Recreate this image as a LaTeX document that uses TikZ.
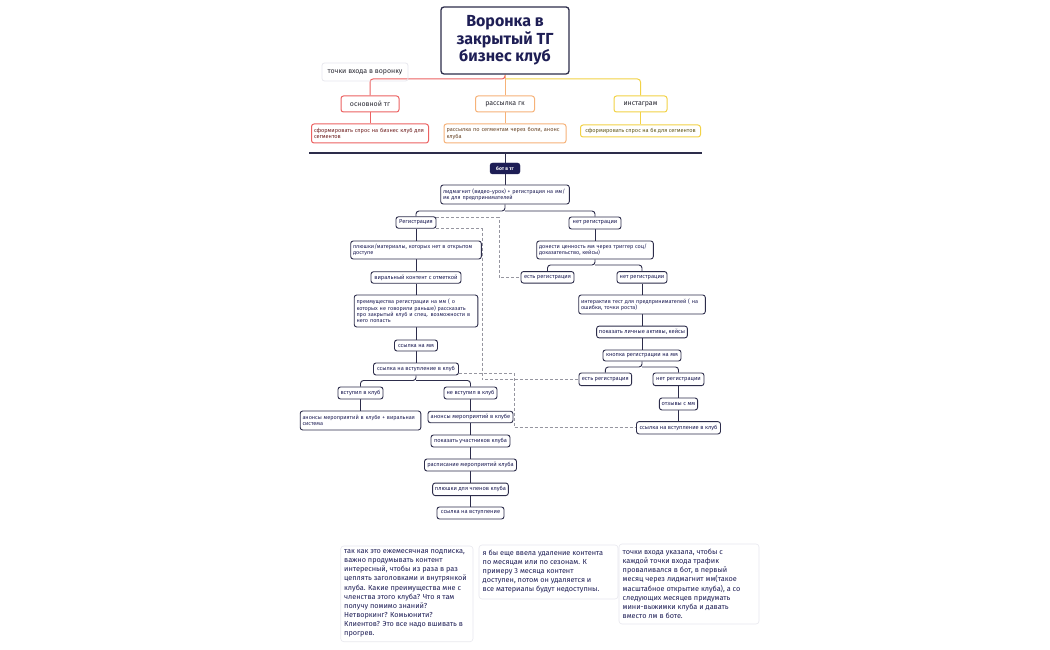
\documentclass[tikz,border=0pt]{standalone}
\usepackage{fontspec}
\setmainfont{Fira Sans}
\usetikzlibrary{calc}
\pgfdeclarelayer{bg}
\pgfdeclarelayer{lines}
\pgfsetlayers{bg,lines,main}
\definecolor{navy}{RGB}{30,30,85}
\definecolor{edge}{RGB}{45,45,75}
\definecolor{rd}{RGB}{236,98,98}
\definecolor{rdt}{RGB}{110,30,30}
\definecolor{og}{RGB}{246,178,120}
\definecolor{ogt}{RGB}{105,70,40}
\definecolor{yl}{RGB}{242,210,70}
\definecolor{ylt}{RGB}{95,85,25}
\definecolor{dsh}{RGB}{150,150,160}
\definecolor{notebd}{RGB}{232,232,238}
\definecolor{maintxt}{RGB}{40,40,50}
\begin{document}
\begin{tikzpicture}[x=1pt,y=-1pt,
  tn/.style={draw=edge, line width=0.9pt, rounded corners=2.5pt, fill=white, text=navy,
    font=\fontsize{5.7}{6.5}\selectfont, inner xsep=2.3pt, inner ysep=1pt, align=left},
  ml/.style={text width=#1, font=\fontsize{5.5}{6.4}\selectfont},
  conn/.style={draw=edge, line width=0.9pt, rounded corners=3pt},
  rel/.style={draw=dsh, line width=0.7pt, dash pattern=on 3pt off 2pt},
  cbox/.style={rounded corners=2.5pt, fill=white, line width=1pt, text=maintxt,
    font=\fontsize{7}{8}\selectfont, inner sep=0pt},
  csub/.style={rounded corners=2.5pt, fill=white, line width=1pt,
    font=\fontsize{5.6}{6.4}\selectfont, align=left, inner xsep=2.5pt, inner ysep=1pt},
  notebox/.style={draw=notebd, line width=0.6pt, rounded corners=3pt, fill=white},
  notetext/.style={text=navy, font=\fontsize{7.3}{9.1}\selectfont, align=left, anchor=north west, inner sep=0pt},
]
\begin{pgfonlayer}{bg}
\fill[white] (0,0) rectangle (1050,650);
\end{pgfonlayer}
\useasboundingbox (0,0) rectangle (1050,650);

% title and entry points
\node[draw=edge, line width=1.3pt, rounded corners=3pt, fill=white, text=navy,
  font=\fontsize{16}{17.5}\selectfont\bfseries, align=center,
  minimum width=128pt, minimum height=67pt, inner sep=0pt] (title) at (505,40.5)
  {Воронка в\\закрытый ТГ\\бизнес клуб};
\node[draw=notebd, line width=0.8pt, rounded corners=2.5pt, text=maintxt,
  font=\fontsize{7}{8}\selectfont, minimum width=86pt, minimum height=18pt, inner sep=0pt]
  (entry) at (365,72) {точки входа в воронку};

\node[cbox, draw=rd, minimum width=58pt, minimum height=16pt] (osn) at (370,104) {основной тг};
\node[cbox, draw=og, minimum width=59pt, minimum height=16pt] (rass) at (505,104) {рассылка гк};
\node[cbox, draw=yl, minimum width=53pt, minimum height=16pt] (insta) at (640.5,104) {инстаграм};

\node[csub, draw=rd, text=rdt, text width=112pt, minimum height=19pt] (osnsub) at (370,133.5)
  {сформировать спрос на бизнес клуб для\\сегментов};
\node[csub, draw=og, text=ogt, text width=117pt, minimum height=19pt] (rasssub) at (505,133.5)
  {рассылка по сегментам через боли, анонс\\клуба};
\node[csub, draw=yl, text=ylt, minimum width=120pt, minimum height=12pt, align=center] (instasub) at (640.5,131)
  {сформировать спрос на бк для сегментов};

\coordinate (jt) at (505,79);
\coordinate (divL) at (309,153);
\coordinate (divM) at (505,153);
\coordinate (divR) at (702,153);

% bot and lead magnet
\node[draw=navy, fill=navy, text=white, rounded corners=2.5pt, font=\fontsize{5}{6}\selectfont\bfseries,
  minimum width=30pt, minimum height=11pt, inner sep=0pt] (bot) at (505,168.5) {бот в тг};
\node[tn, ml=124pt, minimum height=19pt] (lm) at (505,194.5)
  {лидмагнит (видео-урок) + регистрация на мм/\\мк для предпринимателей};

% left tree
\node[tn, minimum width=40pt, minimum height=11.5pt] (reg) at (416,222.5) {Регистрация};
\node[tn, ml=126pt, minimum height=18pt] (plush) at (416,250)
  {плюшки/материалы, которых нет в открытом\\доступе};
\node[tn, minimum width=90pt, minimum height=11.5pt] (viral) at (416,277.5) {виральный контент с отметкой};
\node[tn, ml=119pt, minimum height=32pt] (preim) at (416,311)
  {преимущества регистрации на мм ( о\\которых не говорили раньше) рассказать\\про закрытый клуб и спец. возможности в\\него попасть};
\node[tn, minimum width=43pt, minimum height=11pt] (ssmm) at (416,345.5) {ссылка на мм};
\node[tn, minimum width=85pt, minimum height=12pt] (ssvk) at (416,369) {ссылка на вступление в клуб};

\node[tn, minimum width=45pt, minimum height=12pt] (vst) at (360.5,393) {вступил в клуб};
\node[tn, ml=116pt, minimum height=19pt] (anvst) at (360.5,420.5)
  {анонсы мероприятий в клубе + виральная\\система};
\node[tn, minimum width=53pt, minimum height=12pt] (nevst) at (470.5,393) {не вступил в клуб};
\node[tn, minimum width=85pt, minimum height=11.5pt] (annevst) at (470.5,417) {анонсы мероприятий в клубе};
\node[tn, minimum width=79pt, minimum height=12pt] (pokuch) at (470.5,441) {показать участников клуба};
\node[tn, minimum width=92pt, minimum height=12pt] (rasp) at (470.5,465) {расписание мероприятий клуба};
\node[tn, minimum width=75pt, minimum height=12.5pt] (plchl) at (470.5,489.3) {плюшки для членов клуба};
\node[tn, minimum width=67pt, minimum height=12pt] (ssv) at (470.5,513) {ссылка на вступление};

% right tree
\node[tn, minimum width=52pt, minimum height=12pt] (net1) at (595,223) {нет регистрации};
\node[tn, ml=112pt, minimum height=18pt] (don) at (595,250)
  {донести ценность мм через триггер соц/\\доказательство, кейсы)};
\node[tn, minimum width=53pt, minimum height=11.5pt] (est1) at (547.5,277.3) {есть регистрация};
\node[tn, minimum width=50pt, minimum height=11.5pt] (net2) at (642,277.3) {нет регистрации};
\node[tn, ml=122pt, minimum height=19pt] (inter) at (642,304.5)
  {интерактив тест для предпринимателей ( на\\ошибки, точки роста)};
\node[tn, minimum width=90pt, minimum height=11.7pt] (lich) at (642,332) {показать личные активы, кейсы};
\node[tn, minimum width=78pt, minimum height=11pt] (knop) at (642,355.5) {кнопка регистрации на мм};
\node[tn, minimum width=52.7pt, minimum height=12.7pt] (est2) at (605.3,379.3) {есть регистрация};
\node[tn, minimum width=51pt, minimum height=12.7pt] (net3) at (678.5,379.3) {нет регистрации};
\node[tn, minimum width=36pt, minimum height=12pt] (otz) at (678.5,404) {отзывы с мм};
\node[tn, minimum width=84pt, minimum height=12.3pt] (ssvk2) at (678.5,427.8) {ссылка на вступление в клуб};

% junctions
\coordinate (j0) at (505,211);
\coordinate (j1) at (416,380.5);
\coordinate (j2) at (595,265);
\coordinate (j3) at (642,367);
\coordinate (d1) at (499,250);
\coordinate (d2) at (482,300);
\coordinate (d3) at (514.5,400);

\begin{pgfonlayer}{lines}
\draw[rd, line width=1pt, rounded corners=3pt] (title.south) -- (jt) -| (osn.north);
\draw[yl, line width=1pt, rounded corners=3pt] (jt) -| (insta.north);
\draw[og, line width=1pt] (title.south) -- (rass.north);
\draw[rd, line width=1pt] (osn.south) -- (osnsub.north);
\draw[og, line width=1pt] (rass.south) -- (rasssub.north);
\draw[yl, line width=1pt] (insta.south) -- (instasub.north);

\draw[edge, line width=1.2pt] (divL) -- (divR);
\draw[conn] (divM) -- (bot.north);
\draw[conn] (bot.south) -- (lm.north);
\draw[conn] (lm.south) -- (j0) -| (reg.north);
\draw[conn] (j0) -| (net1.north);
\draw[conn] (reg.south) -- (plush.north);
\draw[conn] (plush.south) -- (viral.north);
\draw[conn] (viral.south) -- (preim.north);
\draw[conn] (preim.south) -- (ssmm.north);
\draw[conn] (ssmm.south) -- (ssvk.north);
\draw[conn] (ssvk.south) -- (j1) -| (vst.north);
\draw[conn] (j1) -| (nevst.north);
\draw[conn] (vst.south) -- (anvst.north);
\draw[conn] (nevst.south) -- (annevst.north);
\draw[conn] (annevst.south) -- (pokuch.north);
\draw[conn] (pokuch.south) -- (rasp.north);
\draw[conn] (rasp.south) -- (plchl.north);
\draw[conn] (plchl.south) -- (ssv.north);

\draw[conn] (net1.south) -- (don.north);
\draw[conn] (don.south) -- (j2) -| (est1.north);
\draw[conn] (j2) -| (net2.north);
\draw[conn] (net2.south) -- (inter.north);
\draw[conn] (inter.south) -- (lich.north);
\draw[conn] (lich.south) -- (knop.north);
\draw[conn] (knop.south) -- (j3) -| (est2.north);
\draw[conn] (j3) -| (net3.north);
\draw[conn] (net3.south) -- (otz.north);
\draw[conn] (otz.south) -- (ssvk2.north);

\draw[rel] ($(reg.north east)+(0,1)$) -| (d1) |- (est1.west);
\draw[rel] ($(reg.south east)+(0,-0.5)$) -| (d2) |- (est2.west);
\draw[rel] ($(ssvk.south east)+(0,-2)$) -| (d3) |- (ssvk2.west);
\end{pgfonlayer}

% notes
\draw[notebox] (340.7,546) rectangle (473,641.7);
\node[notetext] (n1) at (344,549.5) {так как это ежемесячная подписка,\\важно продумывать контент\\интересный, чтобы из раза в раз\\цеплять заголовками и внутрянкой\\клуба. Какие преимущества мне с\\членства этого клуба? Что я там\\получу помимо знаний?\\Нетворкинг? Комьюнити?\\Клиентов? Это все надо вшивать в\\прогрев.};
\draw[notebox] (479,545) rectangle (618,599);
\node[notetext] (n2) at (482.5,549.5) {я бы еще ввела удаление контента\\по месяцам или по сезонам. К\\примеру 3 месяца контент\\доступен, потом он удаляется и\\все материалы будут недоступны.};
\draw[notebox] (619,544) rectangle (759,624);
\node[notetext] (n3) at (622.5,549) {точки входа указала, чтобы с\\каждой точки входа трафик\\проваливался в бот, в первый\\месяц через лидмагнит мм(такое\\масштабное открытие клуба), а со\\следующих месяцев придумать\\мини-выжимки клуба и давать\\вместо лм в боте.};
\end{tikzpicture}
\end{document}
